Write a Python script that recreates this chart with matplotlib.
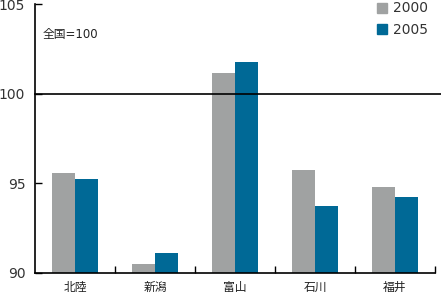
import matplotlib
matplotlib.use("Agg")
import matplotlib.pyplot as plt
from matplotlib.patches import Patch
import numpy as np

plt.rcParams['font.family'] = ['DejaVu Sans', 'Noto Sans CJK JP']

categories = ['北陸', '新潟', '富山', '石川', '福井']
series_names = ['2000', '2005']
values_2000 = [95.6, 90.5, 101.15, 95.75, 94.8]
values_2005 = [95.25, 91.1, 101.75, 93.75, 94.25]
colors = ['#a0a2a2', '#006996']

fig = plt.figure(figsize=(4.41, 2.93), dpi=100)
ax = fig.add_axes([35/441, 20/293, 400/441, 269/293])

x = np.arange(len(categories))
w = 0.29
ax.bar(x - w/2, values_2000, width=w, color=colors[0], label=series_names[0], zorder=2)
ax.bar(x + w/2, values_2005, width=w, color=colors[1], label=series_names[1], zorder=2)

ax.set_xlim(-0.5, len(categories) - 0.5)
ax.set_ylim(90, 105)
ax.set_yticks([90, 95, 100, 105])
ax.set_yticklabels(['90', '95', '100', '105'], fontsize=10, color='#333333')
ax.tick_params(axis='y', direction='in', length=5, width=1, pad=7)
ax.set_xticks(x)
ax.set_xticklabels(categories, fontsize=8.5, color='#222222')
ax.tick_params(axis='x', which='major', length=0, pad=6)
ax.set_xticks(np.arange(len(categories)) + 0.5, minor=True)
ax.tick_params(axis='x', which='minor', direction='in', length=5, width=1)

for s in ['top', 'right']:
    ax.spines[s].set_visible(False)
for s in ['left', 'bottom']:
    ax.spines[s].set_linewidth(1.2)
    ax.spines[s].set_color('black')

# reference line at 100 extending to the figure edge
ax.plot([0, 406/400], [100, 100], transform=ax.get_yaxis_transform(), color='black',
        lw=1.2, clip_on=False, zorder=3)

ax.text(0.018, 0.885, '全国=100', transform=ax.transAxes, fontsize=8.5, color='#222222',
        va='center', ha='left')

handles = [Patch(color=colors[0]), Patch(color=colors[1])]
leg = ax.legend(handles, series_names, loc='upper left', bbox_to_anchor=(336/400, 1.03),
                frameon=False, handlelength=0.75, handleheight=0.75, handletextpad=0.4,
                labelspacing=0.55, fontsize=10, borderaxespad=0)
for t in leg.get_texts():
    t.set_color('#333333')

fig.savefig('out.png', dpi=100)
